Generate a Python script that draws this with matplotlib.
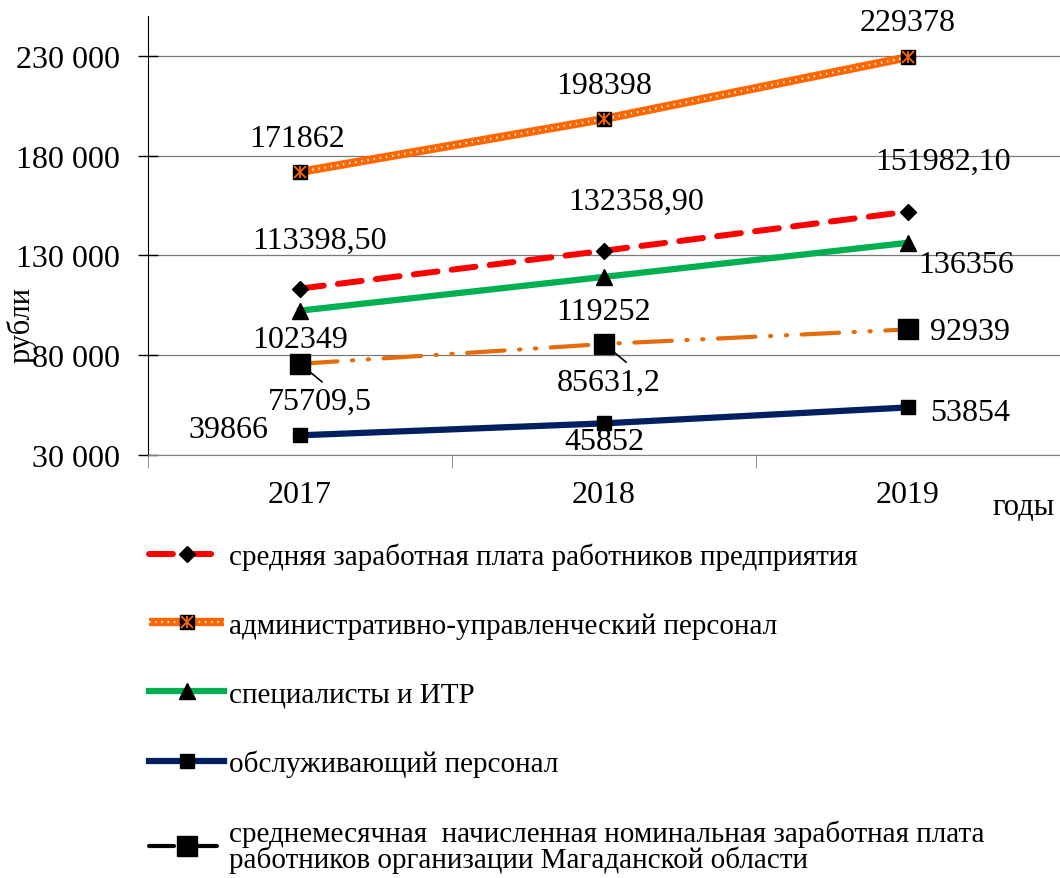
import matplotlib.pyplot as plt
from matplotlib.lines import Line2D
from matplotlib.legend_handler import HandlerTuple

plt.rcParams['font.family'] = ['Liberation Serif', 'DejaVu Serif']

years = ['2017', '2018', '2019']
avg_salary = [113398.50, 132358.90, 151982.10]
admin_staff = [171862, 198398, 229378]
specialists = [102349, 119252, 136356]
service_staff = [39866, 45852, 53854]
magadan_avg = [75709.5, 85631.2, 92939]

avg_labels = ['113398,50', '132358,90', '151982,10']
magadan_labels = ['75709,5', '85631,2', '92939']

x = list(range(len(years)))
FS = 23

fig = plt.figure(figsize=(10.6, 8.79), dpi=100)
ax = fig.add_axes([148 / 1060, 1 - 456 / 879, (1060 - 148) / 1060, (456 - 17) / 879])

# линии
red_l, = ax.plot(x, avg_salary, color='#FF0000', lw=4.3, dashes=(4, 2.4), dash_capstyle='round',
                 marker='D', ms=8, mfc='black', mec='black', zorder=4)
org_l, = ax.plot(x, admin_staff, color='#FF6600', lw=6, solid_capstyle='butt', zorder=3)
org_dots, = ax.plot(x, admin_staff, color='white', lw=1.6, dashes=(0.6, 2.2), zorder=3.1)
org_m1, = ax.plot(x, admin_staff, ls='none', marker='s', ms=10, mfc='black', mec='black', zorder=5)
org_m2, = ax.plot(x, admin_staff, ls='none', marker='x', ms=8, mec='#FF6600', mew=1.3, zorder=6)
org_m3, = ax.plot(x, admin_staff, ls='none', marker='|', ms=9, mec='#FF6600', mew=1.3, zorder=6)
grn_l, = ax.plot(x, specialists, color='#00B050', lw=4.5, marker='^', ms=12, mfc='black', mec='black', zorder=4)
nav_l, = ax.plot(x, service_staff, color='#002060', lw=4.5, marker='s', ms=10, mfc='black', mec='black', zorder=4)
mag_l, = ax.plot(x, magadan_avg, color='#E46C0A', lw=3, dashes=(9, 3.5, 0.3, 3.5, 0.3, 3.5),
                 dash_capstyle='round', marker='s', ms=14, mfc='black', mec='black', zorder=4)

ax.set_xlim(-0.49, 2.452)
ax.set_ylim(30000, 250000)
ax.set_yticks([30000, 80000, 130000, 180000, 230000])
ax.set_yticklabels(['30 000', '80 000', '130 000', '180 000', '230 000'], fontsize=FS)
ax.set_xticks(x)
ax.set_xticklabels(years, fontsize=FS)
ax.set_xticks([-0.5, 0.5, 1.5, 2.5], minor=True)
ax.tick_params(axis='x', which='major', length=0, pad=18)
ax.tick_params(axis='x', which='minor', length=9, color='#808080', direction='out')
ax.tick_params(axis='y', direction='inout', length=15, width=1, pad=13)
ax.grid(axis='y', color='#7a7a7a', lw=0.9)
ax.set_axisbelow(True)
for s in ['top', 'right']:
    ax.spines[s].set_visible(False)
ax.spines['bottom'].set_color('#808080')
ax.spines['left'].set_color('black')

# подписи значений
def put(vals, texts, offs):
    for i, (v, t, o) in enumerate(zip(vals, texts, offs)):
        ax.annotate(t, (i, v), xytext=o, textcoords='offset pixels', ha='center', va='center', fontsize=FS)

put(admin_staff, [str(v) for v in admin_staff], [(-3, 33), (0, 33), (0, 35)])
put(avg_salary, avg_labels, [(20, 48), (32, 49), (35, 50)])
put(specialists, [str(v) for v in specialists], [(0, -29), (0, -35), (58, -22)])
put(service_staff, [str(v) for v in service_staff], [(-72, 6), (0, -18), (62, -5)])
put(magadan_avg, magadan_labels, [(20, -38), (5, -38), (62, -2)])
for i in range(2):
    ax.annotate('', (i + 0.02, magadan_avg[i] - 2500), xytext=(i + 0.08, magadan_avg[i] - 10000),
                arrowprops=dict(arrowstyle='-', color='black', lw=1.2))

fig.text(22 / 1060, 1 - 325 / 879, 'рубли', rotation=90, ha='center', va='center', fontsize=22)
fig.text(1024 / 1060, 1 - 508 / 879, 'годы', ha='center', va='center', fontsize=22)

# легенда
leg_red = Line2D([], [], color='#FF0000', lw=4.3, dashes=(4, 2.4), dash_capstyle='round',
                 marker='D', ms=8, mfc='black', mec='black')
leg_mag = Line2D([], [], color='black', lw=3, dashes=(6, 2, 0.3, 2), dash_capstyle='round',
                 marker='s', ms=14, mfc='black', mec='black')
handles = [leg_red, (org_l, org_dots, org_m1, org_m2, org_m3), grn_l, nav_l, leg_mag]
labels = ['средняя заработная плата работников предприятия',
          'административно-управленческий персонал',
          'специалисты и ИТР',
          'обслуживающий персонал',
          'среднемесячная  начисленная номинальная заработная плата\nработников организации Магаданской области']
leg = fig.legend(handles, labels, loc='upper left', bbox_to_anchor=(123 / 1060, 1 - 517 / 879),
                 frameon=False, fontsize=21, handlelength=2.57, handletextpad=0.15, labelspacing=1.45,
                 numpoints=1, handler_map={tuple: HandlerTuple(ndivide=1)})
leg.get_texts()[-1].set_linespacing(0.95)

fig.savefig('out.png', dpi=100)
